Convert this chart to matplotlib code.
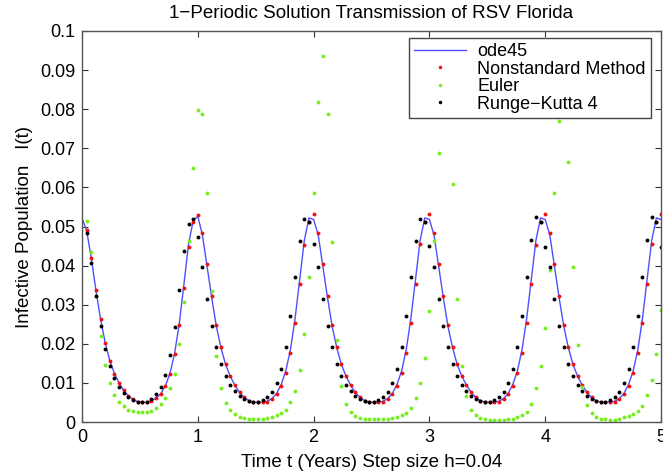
import numpy as np
import matplotlib
matplotlib.use('Agg')
import matplotlib.pyplot as plt

plt.rcParams['font.family'] = ['Liberation Sans', 'DejaVu Sans']

# time grid, step size h=0.04 over 5 years
stepSize = 0.04
timeYears = np.round(np.arange(126)*stepSize, 2)

# ode45 reference solution (read at the grid points, t=0..5)
ode45 = [0.0521,
    0.0490, 0.0419, 0.0337, 0.0263, 0.0203, 0.0157, 0.0124, 0.0100, 0.0081, 0.0067, 0.0058, 0.0052, 0.0050,
    0.0051, 0.0054, 0.0061, 0.0072, 0.0093, 0.0125, 0.0176, 0.0252, 0.0352, 0.0455, 0.0515, 0.0526,
    0.0478, 0.0398, 0.0318, 0.0245, 0.0190, 0.0147, 0.0117, 0.0094, 0.0076, 0.0063, 0.0055, 0.0051, 0.0050,
    0.0051, 0.0053, 0.0060, 0.0073, 0.0096, 0.0131, 0.0185, 0.0265, 0.0365, 0.0465, 0.0522, 0.0518,
    0.0478, 0.0398, 0.0318, 0.0245, 0.0190, 0.0147, 0.0117, 0.0094, 0.0076, 0.0063, 0.0055, 0.0051, 0.0050,
    0.0051, 0.0053, 0.0060, 0.0073, 0.0096, 0.0131, 0.0185, 0.0265, 0.0365, 0.0465, 0.0522, 0.0518,
    0.0478, 0.0398, 0.0318, 0.0245, 0.0190, 0.0147, 0.0117, 0.0094, 0.0076, 0.0063, 0.0055, 0.0051, 0.0050,
    0.0051, 0.0053, 0.0060, 0.0073, 0.0096, 0.0131, 0.0185, 0.0265, 0.0365, 0.0465, 0.0522, 0.0518,
    0.0478, 0.0398, 0.0318, 0.0245, 0.0190, 0.0147, 0.0117, 0.0094, 0.0076, 0.0063, 0.0055, 0.0051, 0.0050,
    0.0051, 0.0053, 0.0060, 0.0073, 0.0096, 0.0131, 0.0185, 0.0265, 0.0365, 0.0465, 0.0522, 0.0518]

# the method points below start at t=0.04 (first step)
# nonstandard finite difference method
nonstandard = [
    0.0491, 0.0420, 0.0338, 0.0263, 0.0203, 0.0157, 0.0124, 0.0100, 0.0081, 0.0067, 0.0058, 0.0052, 0.0050,
    0.0051, 0.0054, 0.0061, 0.0072, 0.0093, 0.0124, 0.0174, 0.0248, 0.0344, 0.0447, 0.0512, 0.0530,
    0.0483, 0.0404, 0.0321, 0.0247, 0.0192, 0.0148, 0.0118, 0.0095, 0.0077, 0.0063, 0.0055, 0.0051, 0.0050,
    0.0050, 0.0052, 0.0059, 0.0071, 0.0093, 0.0126, 0.0177, 0.0254, 0.0352, 0.0453, 0.0512, 0.0531,
    0.0483, 0.0404, 0.0321, 0.0247, 0.0192, 0.0148, 0.0118, 0.0095, 0.0077, 0.0063, 0.0055, 0.0051, 0.0050,
    0.0050, 0.0052, 0.0059, 0.0071, 0.0093, 0.0126, 0.0177, 0.0254, 0.0352, 0.0455, 0.0512, 0.0532,
    0.0483, 0.0404, 0.0321, 0.0247, 0.0192, 0.0148, 0.0118, 0.0095, 0.0077, 0.0063, 0.0055, 0.0051, 0.0050,
    0.0050, 0.0052, 0.0059, 0.0071, 0.0093, 0.0126, 0.0177, 0.0254, 0.0352, 0.0453, 0.0512, 0.0532,
    0.0483, 0.0404, 0.0321, 0.0247, 0.0192, 0.0148, 0.0118, 0.0095, 0.0077, 0.0063, 0.0055, 0.0051, 0.0050,
    0.0050, 0.0052, 0.0059, 0.0071, 0.0093, 0.0126, 0.0177, 0.0254, 0.0352, 0.0455, 0.0512, 0.0532]

# explicit euler (growing amplitude, some points above 0.1 are clipped)
euler = [
    0.0513, 0.0434, 0.0321, 0.0220, 0.0147, 0.0099, 0.0068, 0.0051, 0.0040, 0.0032, 0.0028, 0.0026, 0.0026,
    0.0026, 0.0029, 0.0035, 0.0046, 0.0061, 0.0088, 0.0124, 0.0199, 0.0308, 0.0462, 0.0650, 0.0798,
    0.0787, 0.0586, 0.0335, 0.0169, 0.0087, 0.0049, 0.0031, 0.0020, 0.0014, 0.0011, 0.0009, 0.0009, 0.0009,
    0.0009, 0.0011, 0.0014, 0.0018, 0.0024, 0.0032, 0.0050, 0.0080, 0.0133, 0.0224, 0.0372, 0.0585,
    0.0818, 0.0936, 0.0787, 0.0461, 0.0210, 0.0093, 0.0045, 0.0026, 0.0016, 0.0011, 0.0008, 0.0007, 0.0007,
    0.0007, 0.0007, 0.0008, 0.0010, 0.0013, 0.0017, 0.0024, 0.0037, 0.0062, 0.0099, 0.0165, 0.0284,
    0.0463, 0.0687, 0.1150, 0.1080, 0.0608, 0.0314, 0.0142, 0.0066, 0.0032, 0.0018, 0.0011, 0.0008, 0.0006,
    0.0006, 0.0006, 0.0006, 0.0007, 0.0009, 0.0012, 0.0017, 0.0026, 0.0045, 0.0088, 0.0144, 0.0240,
    0.0389, 0.0585, 0.0771, 0.1200, 0.0666, 0.0397, 0.0197, 0.0090, 0.0043, 0.0024, 0.0014, 0.0009, 0.0007,
    0.0006, 0.0006, 0.0008, 0.0012, 0.0016, 0.0020, 0.0028, 0.0042, 0.0068, 0.0107, 0.0175, 0.0286]

# classical runge-kutta 4
rungeKutta = [
    0.0483, 0.0406, 0.0321, 0.0246, 0.0187, 0.0144, 0.0112, 0.0089, 0.0073, 0.0063, 0.0056, 0.0052, 0.0050,
    0.0052, 0.0058, 0.0071, 0.0090, 0.0121, 0.0171, 0.0242, 0.0338, 0.0437, 0.0507, 0.0519, 0.0474,
    0.0397, 0.0315, 0.0246, 0.0191, 0.0148, 0.0118, 0.0095, 0.0079, 0.0066, 0.0059, 0.0053, 0.0051, 0.0052,
    0.0056, 0.0065, 0.0077, 0.0100, 0.0136, 0.0193, 0.0271, 0.0370, 0.0464, 0.0519, 0.0512, 0.0454,
    0.0397, 0.0315, 0.0246, 0.0191, 0.0148, 0.0118, 0.0095, 0.0079, 0.0066, 0.0059, 0.0053, 0.0051, 0.0052,
    0.0056, 0.0065, 0.0077, 0.0100, 0.0136, 0.0193, 0.0271, 0.0370, 0.0464, 0.0519, 0.0512, 0.0451,
    0.0397, 0.0315, 0.0246, 0.0191, 0.0148, 0.0118, 0.0095, 0.0079, 0.0066, 0.0059, 0.0053, 0.0051, 0.0052,
    0.0056, 0.0065, 0.0077, 0.0100, 0.0136, 0.0193, 0.0271, 0.0370, 0.0466, 0.0524, 0.0512, 0.0448,
    0.0397, 0.0315, 0.0246, 0.0191, 0.0148, 0.0118, 0.0095, 0.0079, 0.0066, 0.0059, 0.0053, 0.0051, 0.0052,
    0.0056, 0.0065, 0.0077, 0.0100, 0.0136, 0.0193, 0.0271, 0.0370, 0.0466, 0.0524, 0.0512, 0.0448]

xTicks = [0, 1, 2, 3, 4, 5]
yTicks = [0, 0.01, 0.02, 0.03, 0.04, 0.05, 0.06, 0.07, 0.08, 0.09, 0.1]
yTickLabels = ['0', '0.01', '0.02', '0.03', '0.04', '0.05', '0.06', '0.07', '0.08', '0.09', '0.1']

fig = plt.figure(figsize=(6.63, 4.76), dpi=100)
ax = fig.add_axes([0.1237, 0.1134, 0.8733, 0.8215])

stepTimes = timeYears[1:]
dotStyle = {'linestyle': 'none', 'marker': 'o', 'markersize': 2.8, 'markeredgewidth': 0}
ax.plot(timeYears, ode45, color='#4f4fff', linewidth=1, label='ode45')
ax.plot(stepTimes, nonstandard, color='#ee1111', label='Nonstandard Method', **dotStyle)
ax.plot(stepTimes, euler, color='#77ee22', label='Euler', **dotStyle)
ax.plot(stepTimes, rungeKutta, color='black', label='Runge\u2212Kutta 4', **dotStyle)

ax.set_xlim(0, 5)
ax.set_ylim(0, 0.1)
ax.set_xticks(xTicks)
ax.set_yticks(yTicks)
ax.set_yticklabels(yTickLabels)
ax.tick_params(direction='in', top=True, right=True, length=4, width=0.8, color='#333333',
    labelsize=13, pad=5)
for spine in ax.spines.values():
    spine.set_color('#555555')
    spine.set_linewidth(1)

ax.set_title('1\u2212Periodic Solution Transmission of RSV Florida', fontsize=13.5, pad=9)
ax.set_xlabel('Time t (Years) Step size h=0.04', fontsize=13.5, labelpad=6)
ax.set_ylabel('Infective Population   I(t)', fontsize=13.5, labelpad=5)

leg = ax.legend(loc='upper right', bbox_to_anchor=(0.983, 0.982), borderaxespad=0, fontsize=13,
    handlelength=2.9, labelspacing=0.02, borderpad=0.3, handletextpad=0.6, fancybox=False,
    framealpha=1, edgecolor='#444444', markerscale=0.9)
leg.get_frame().set_linewidth(1)

fig.savefig('out.png', dpi=100)
